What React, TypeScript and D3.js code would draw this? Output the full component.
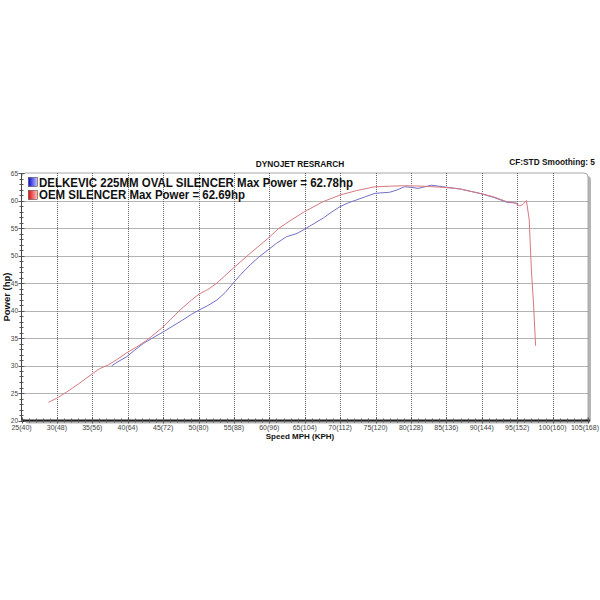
import React from "react";
import * as d3 from "d3";

// ---- data ----
const xTickMph = [25, 30, 35, 40, 45, 50, 55, 60, 65, 70, 75, 80, 85, 90, 95, 100, 105];
const xTickLabels = ["25(40)", "30(48)", "35(56)", "40(64)", "45(72)", "50(80)", "55(88)", "60(96)", "65(104)", "70(112)", "75(120)", "80(128)", "85(136)", "90(144)", "95(152)", "100(160)", "105(168)"];
const yTicks = [20, 25, 30, 35, 40, 45, 50, 55, 60, 65];

const oemMph = [28.8, 29.9, 31.4, 33.0, 34.9, 36.0, 37.25, 38.5, 39.85, 41.3, 42.7, 44.8, 46.0, 47.4, 49.0, 50.1, 51.3, 52.6, 54.9, 57.3, 59.8, 61.3, 62.9, 65.0, 67.6, 70.0, 72.3, 74.9, 77.0, 79.1, 81.7, 84.5, 86.9, 89.7, 91.6, 93.5, 94.6, 95.4, 95.9, 96.3, 96.7, 97.0, 97.3, 97.6];
const oemHp = [23.3, 24.0, 25.2, 26.6, 28.4, 29.4, 30.1, 31.1, 32.3, 33.4, 34.6, 36.8, 38.3, 40.1, 41.9, 43.0, 43.8, 45.0, 47.7, 50.4, 53.1, 54.9, 56.3, 58.0, 59.8, 61.0, 61.8, 62.5, 62.6, 62.69, 62.6, 62.4, 62.1, 61.3, 60.7, 59.8, 59.6, 59.0, 59.4, 60.0, 56.5, 47.4, 41.4, 33.6];

const delkMph = [37.7, 38.5, 39.85, 41.0, 42.2, 43.5, 45.0, 46.4, 47.8, 49.0, 50.1, 51.3, 52.6, 53.8, 54.9, 56.0, 57.3, 58.5, 59.8, 61.0, 62.4, 63.9, 65.0, 66.3, 67.6, 68.8, 70.0, 71.2, 72.3, 73.6, 74.9, 77.0, 78.0, 79.1, 80.0, 81.0, 82.0, 82.9, 84.5, 86.9, 89.7, 91.6, 93.5, 95.0];
const delkHp = [29.9, 30.6, 31.6, 32.8, 34.0, 35.0, 36.1, 37.2, 38.3, 39.3, 40.1, 40.9, 41.9, 43.3, 45.0, 46.6, 48.3, 49.7, 51.0, 52.2, 53.4, 54.0, 54.8, 55.8, 56.8, 57.9, 58.9, 59.6, 60.1, 60.7, 61.3, 61.5, 61.9, 62.5, 62.4, 62.2, 62.5, 62.78, 62.5, 62.1, 61.3, 60.6, 59.7, 59.5];

const legendLabels = ["DELKEVIC 225MM OVAL SILENCER Max Power = 62.78hp", "OEM SILENCER Max Power = 62.69hp"];

const FONT = "'Liberation Sans', Arial, sans-serif";

export default function App() {
  const x = d3.scaleLinear().domain([25, 105]).range([21.5, 588]);
  const y = d3.scaleLinear().domain([20, 65]).range([420.5, 173]);
  const crisp = (v: number) => Math.round(v) + 0.5;

  const line = d3
    .line<[number, number]>()
    .x((d) => x(d[0]))
    .y((d) => y(d[1]));

  const oem = oemMph.map((m, i) => [m, oemHp[i]] as [number, number]);
  const delk = delkMph.map((m, i) => [m, delkHp[i]] as [number, number]);

  const x0 = x(25), x1 = x(105), yTop = y(65), yBot = y(20);
  const minorX = d3.range(25, 106, 1);
  const minorY = d3.range(20, 66, 1);

  return (
    <svg width={600} height={600} style={{ display: "block", position: "absolute", left: 0, top: 0, background: "#fff" }} fontFamily={FONT}>
      <defs>
        <linearGradient id="gBlue" x1="0" x2="1" y1="0" y2="0">
          <stop offset="0" stopColor="#0a0ad8" />
          <stop offset="1" stopColor="#c8c8ff" />
        </linearGradient>
        <linearGradient id="gRed" x1="0" x2="1" y1="0" y2="0">
          <stop offset="0" stopColor="#e00a0a" />
          <stop offset="1" stopColor="#ffc8c8" />
        </linearGradient>
      </defs>
      <rect width={600} height={600} fill="#fff" />

      {/* titles */}
      <text x={300} y={167} textAnchor="middle" fontSize={8.3} fontWeight="bold" fill="#111">DYNOJET RESRARCH</text>
      <text x={595} y={165} textAnchor="end" fontSize={8.3} fontWeight="bold" fill="#111">CF:STD Smoothing: 5</text>

      {/* frame shadow */}
      <rect x={x0 + 3} y={yTop + 3} width={x1 - x0} height={yBot - yTop} rx={4} fill="#b4b4b4" />
      <rect x={x0} y={yTop} width={x1 - x0} height={yBot - yTop} rx={4} fill="#fff" stroke="#a8a8a8" strokeWidth={1} />

      {/* grid */}
      {xTickMph.slice(1, -1).map((m) => (
        <line key={"gx" + m} x1={crisp(x(m))} x2={crisp(x(m))} y1={yTop} y2={yBot} stroke="#666" strokeWidth={1} strokeDasharray="1,1" />
      ))}
      {yTicks.slice(1, -1).map((v) => (
        <line key={"gy" + v} x1={x0} x2={x1} y1={crisp(y(v))} y2={crisp(y(v))} stroke="#666" strokeWidth={1} strokeDasharray="1,1" />
      ))}

      {/* axes */}
      <line x1={x0} x2={x0} y1={yTop} y2={yBot} stroke="#444" strokeWidth={1} />
      {minorY.map((v) => (
        <line key={"ty" + v} x1={x0 - (v % 5 === 0 ? 3 : 2)} x2={x0 + (v % 5 === 0 ? 3 : 2)} y1={crisp(y(v))} y2={crisp(y(v))} stroke="#555" strokeWidth={1} />
      ))}
      <line x1={x0} x2={x1 + 2} y1={yBot} y2={yBot} stroke="#222" strokeWidth={2} />
      {minorX.map((m) => (
        <line key={"tx" + m} x1={crisp(x(m))} x2={crisp(x(m))} y1={yBot - (m % 5 === 0 ? 3 : 2)} y2={yBot + (m % 5 === 0 ? 3 : 2)} stroke="#555" strokeWidth={1} />
      ))}

      {/* tick labels */}
      {yTicks.map((v) => (
        <text key={"ly" + v} x={18} y={y(v) + 2.5} textAnchor="end" fontSize={6.5} fill="#444">{v}</text>
      ))}
      {xTickMph.map((m, i) => (
        <text key={"lx" + m} x={i === xTickMph.length - 1 ? 599 : x(m)} y={429.5} textAnchor={i === xTickMph.length - 1 ? "end" : "middle"} fontSize={7} fill="#444">{xTickLabels[i]}</text>
      ))}

      {/* axis titles */}
      <text x={300} y={439} textAnchor="middle" fontSize={8} fontWeight="bold" fill="#111">Speed MPH (KPH)</text>
      <text transform={`translate(10,297) rotate(-90)`} textAnchor="middle" fontSize={9.5} fontWeight="bold" fill="#111">Power (hp)</text>

      {/* curves */}
      <path d={line(delk) || ""} fill="none" stroke="#7070cc" strokeWidth={1} />
      <path d={line(oem) || ""} fill="none" stroke="#d87880" strokeWidth={1} />

      {/* legend */}
      <rect x={28.5} y={177.5} width={9} height={9} fill="url(#gBlue)" stroke="#333" strokeWidth={0.5} />
      <rect x={28.5} y={190.5} width={9} height={9} fill="url(#gRed)" stroke="#333" strokeWidth={0.5} />
      <text x={39} y={186.5} fontSize={12} fontWeight="bold" fill="#111" textLength={314} lengthAdjust="spacingAndGlyphs">{legendLabels[0]}</text>
      <text x={39} y={199} fontSize={12} fontWeight="bold" fill="#111" textLength={206} lengthAdjust="spacingAndGlyphs">{legendLabels[1]}</text>
    </svg>
  );
}
